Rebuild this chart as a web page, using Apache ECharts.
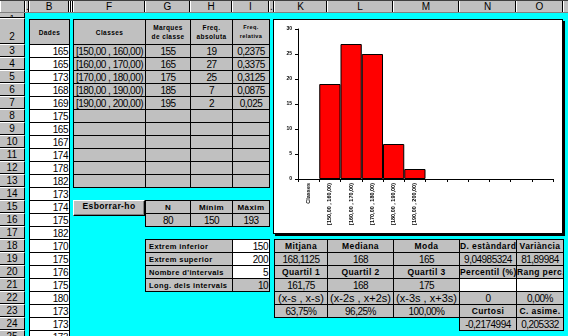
<!DOCTYPE html>
<html><head><meta charset="utf-8">
<script src="https://cdn.jsdelivr.net/npm/echarts@6/dist/echarts.min.js"></script>
<style>
html,body{margin:0;padding:0}
body{width:568px;height:336px;overflow:hidden;background:#00ffff;position:relative;font-family:"Liberation Sans",Arial,sans-serif;color:#000}
.c{position:absolute;box-sizing:border-box;border:1px solid #000;background:#c0c0c0;white-space:nowrap;overflow:hidden;font-size:10px;letter-spacing:-0.5px;display:flex;align-items:center}
.c>div{width:100%}
.b{font-family:"Liberation Sans",Arial,sans-serif;font-weight:bold;font-size:8px;letter-spacing:0.4px}
.hd{position:absolute;box-sizing:border-box;background:#c0c0c0;font-family:"Liberation Sans",Arial,sans-serif;font-size:10px;text-align:center;overflow:hidden;white-space:nowrap}
.ov{text-decoration:overline}
</style></head>
<body>
<div id="box" style="position:absolute;left:273px;top:19px;width:290px;height:215px;box-sizing:border-box;border:1px solid #000;background:#fff;box-shadow:2px 2px 0 #000"></div>
<div id="chart" style="position:absolute;left:274px;top:20px;width:288px;height:213px"></div>
<script>
// ---- data ----
const dades = [165,165,173,168,169,175,165,167,174,178,182,173,174,175,182,170,175,176,175,180,173,173,173];
const classes = ["[150,00 , 160,00)","[160,00 , 170,00)","[170,00 , 180,00)","[180,00 , 190,00)","[190,00 , 200,00)"];
const marques = [155,165,175,185,195];
const freqAbs = [19,27,25,7,2];
const freqRel = ["0,2375","0,3375","0,3125","0,0875","0,025"];
const chartCategories = ["Classes"].concat(classes, [" ","  ","   ","    ","     ","      "]);
const chartValues = ["-"].concat(freqAbs, ["-","-","-","-","-","-"]);
const yMin = 0, yMax = 30, yStep = 5;
const nHeaders = ["N","Mínim","Màxim"];
const nValues = ["80","150","193"];
const paramLabels = ["Extrem inferior","Extrem superior","Nombre d'intervals","Long. dels intervals"];
const paramValues = ["150","200","5","10"];
const statHead1 = ["Mitjana","Mediana","Moda","D. estàndard","Variància"];
const statVal1 = ["168,1125","168","165","9,04985324","81,89984"];
const statHead2 = ["Quartil 1","Quartil 2","Quartil 3","Percentil (%)","Rang perc."];
const statVal2 = ["161,75","168","175","",""];
const intervalText = ['(<span class="ov">x</span>-s , <span class="ov">x</span>-s)','(<span class="ov">x</span>-2s , <span class="ov">x</span>+2s)','(<span class="ov">x</span>-3s , <span class="ov">x</span>+3s)'];
const intervalPct = ["63,75%","96,25%","100,00%"];
const percentilVals = ["0","0,00%"];
const shapeHead = ["Curtosi","C. asime."];
const shapeVals = ["-0,2174994","0,205332"];
const colHeaders = [[0,25,""],[25,29,"."],[29,69,"B"],[69,71,""],[71,73,""],[73,145,"F"],[145,190,"G"],[190,232,"H"],[232,269,"I"],[269,274,"."],[274,327,"K"],[327,393,"L"],[393,459,"M"],[459,516,"N"],[516,563,"O"],[563,580,""]];

// ---- layout helpers ----
function rowY(r){ return 44 + (r-3)*13; }
function cell(x1,y1,x2,y2,html,o){
  o = o||{};
  const d=document.createElement('div'); d.className='c'+(o.cls?' '+o.cls:'');
  d.style.left=x1+'px'; d.style.top=y1+'px'; d.style.width=(x2-x1+1)+'px'; d.style.height=(y2-y1+1)+'px';
  if(o.bg) d.style.background=o.bg;
  if(o.style) Object.assign(d.style,o.style);
  const s=document.createElement('div'); s.style.textAlign=o.align||'center';
  if(o.pad) s.style.padding=o.pad;
  if(o.lh) s.style.lineHeight=o.lh;
  s.innerHTML=html; d.appendChild(s); document.body.appendChild(d); return d;
}
function hd(x,y,w,h,txt,st){
  const d=document.createElement('div'); d.className='hd';
  d.style.left=x+'px'; d.style.top=y+'px'; d.style.width=w+'px'; d.style.height=h+'px';
  Object.assign(d.style,st||{}); d.textContent=txt; document.body.appendChild(d); return d;
}
// column header bar
hd(0,0,568,13,"",{borderTop:"1px solid #404040",borderBottom:"1px solid #808080"});
colHeaders.forEach(([a,b,t])=>hd(a,1,b-a,11,t,{lineHeight:'11px',borderLeft:'1px solid #fff',borderRight:'1px solid #000'}));
// row headers
hd(0,13,25,5,"1",{lineHeight:'11px',borderRight:'1px solid #000',borderBottom:'1px solid #000',fontSize:'9px'});
hd(0,18,25,26,"2",{lineHeight:'36px',borderTop:'1px solid #fff',borderRight:'1px solid #000',borderBottom:'1px solid #000'});
for(let r=3;r<=25;r++) hd(0,rowY(r),25,13,String(r),{lineHeight:'12px',borderTop:'1px solid #fff',borderRight:'1px solid #000',borderBottom:'1px solid #000'});

// B column
cell(29,19,69,44,"Dades",{cls:'b',style:{fontSize:'6.5px'}});
dades.forEach((v,i)=>cell(29,rowY(i+3),69,rowY(i+4),String(v),{bg:'#fff',align:'right',pad:'0 1px 0 0'}));

// F-I frequency table
const fx=[73,145,190,232,269];
cell(fx[0],19,fx[1],44,"Classes",{cls:'b',style:{fontSize:'6.5px'}});
cell(fx[1],19,fx[2],44,"Marques<br>de classe",{cls:'b',lh:'9px',style:{fontSize:'6.5px'}});
cell(fx[2],19,fx[3],44,"Freq.<br>absoluta",{cls:'b',lh:'9px',style:{fontSize:'6.5px'}});
cell(fx[3],19,fx[4],44,"Freq.<br>relativa",{cls:'b',lh:'9px',style:{fontSize:'5.5px'}});
for(let r=3;r<=13;r++){
  const i=r-3;
  const vals=[classes[i]||"", marques[i]!=null?String(marques[i]):"", freqAbs[i]!=null?String(freqAbs[i]):"", freqRel[i]||""];
  for(let c=0;c<4;c++) cell(fx[c],rowY(r),fx[c+1],rowY(r+1),vals[c]);
}

// button
(function(){
  const d=document.createElement('div');
  Object.assign(d.style,{position:'absolute',left:'73px',top:'200px',width:'72px',height:'16px',boxSizing:'border-box',background:'#c0c0c0',border:'1px solid',borderColor:'#fff #000 #000 #fff',boxShadow:'inset -1px -1px 0 #808080',textAlign:'center',lineHeight:'10px'});
  d.className='b'; d.style.fontSize='8.5px'; d.textContent='Esborrar-ho'; document.body.appendChild(d);
})();

// N / min / max
for(let c=0;c<3;c++){
  cell(fx[c+1],rowY(15),fx[c+2],rowY(16),nHeaders[c],{cls:'b',style:{fontSize:'8px'}});
  cell(fx[c+1],rowY(16),fx[c+2],rowY(17),nValues[c]);
}
// parameters
for(let i=0;i<4;i++){
  const r=18+i;
  cell(fx[1],rowY(r),fx[3],rowY(r+1),paramLabels[i],{cls:'b',align:'left',pad:'0 0 0 3px',style:{fontSize:'7.5px'}});
  cell(fx[3],rowY(r),fx[4],rowY(r+1),paramValues[i],{align:'right',pad:'0 1px 0 0',bg:i<3?'#fff':'#c0c0c0'});
}

// stats table
const kx=[274,327,393,459,516,563];
const bs={fontSize:'8.5px'};
for(let c=0;c<5;c++){
  cell(kx[c],rowY(18),kx[c+1],rowY(19),statHead1[c],{cls:'b',style:bs});
  cell(kx[c],rowY(19),kx[c+1],rowY(20),statVal1[c]);
  cell(kx[c],rowY(20),kx[c+1],rowY(21),statHead2[c],{cls:'b',style:bs});
  cell(kx[c],rowY(21),kx[c+1],rowY(22),statVal2[c],{bg:c>=3?'#fff':'#c0c0c0'});
}
for(let c=0;c<3;c++){
  cell(kx[c],rowY(22),kx[c+1],rowY(23),intervalText[c],{style:{fontSize:'11px',letterSpacing:'0px'}});
  cell(kx[c],rowY(23),kx[c+1],rowY(24),intervalPct[c]);
}
for(let c=0;c<2;c++){
  cell(kx[c+3],rowY(22),kx[c+4],rowY(23),percentilVals[c]);
  cell(kx[c+3],rowY(23),kx[c+4],rowY(24),shapeHead[c],{cls:'b',style:bs});
  cell(kx[c+3],rowY(24),kx[c+4],rowY(25),shapeVals[c]);
}

// ---- chart ----
const chart = echarts.init(document.getElementById('chart'), null, {renderer:'canvas'});
chart.setOption({
  animation:false,
  backgroundColor:'transparent',
  grid:{left:24, top:9, right:9, bottom:54},
  xAxis:{type:'category', data:chartCategories,
    axisLine:{lineStyle:{color:'#000',width:1}},
    axisTick:{show:true,length:3,interval:0,alignWithLabel:false,lineStyle:{color:'#000'}},
    axisLabel:{interval:0,rotate:90,margin:4,fontSize:5.5,fontWeight:'bold',color:'#000',fontFamily:'Liberation Sans'},
    splitLine:{show:false}},
  yAxis:{type:'value', min:yMin, max:yMax, interval:yStep,
    axisLine:{show:true,lineStyle:{color:'#000',width:1}},
    axisTick:{show:true,length:3,lineStyle:{color:'#000'}},
    axisLabel:{margin:6,fontSize:5,fontWeight:'bold',color:'#000',fontFamily:'Liberation Sans'},
    splitLine:{show:false}},
  series:[{type:'bar', data:chartValues, barCategoryGap:'0%',
    itemStyle:{color:'#ff0000', borderColor:'#000', borderWidth:1}}]
});
</script>
</body></html>
